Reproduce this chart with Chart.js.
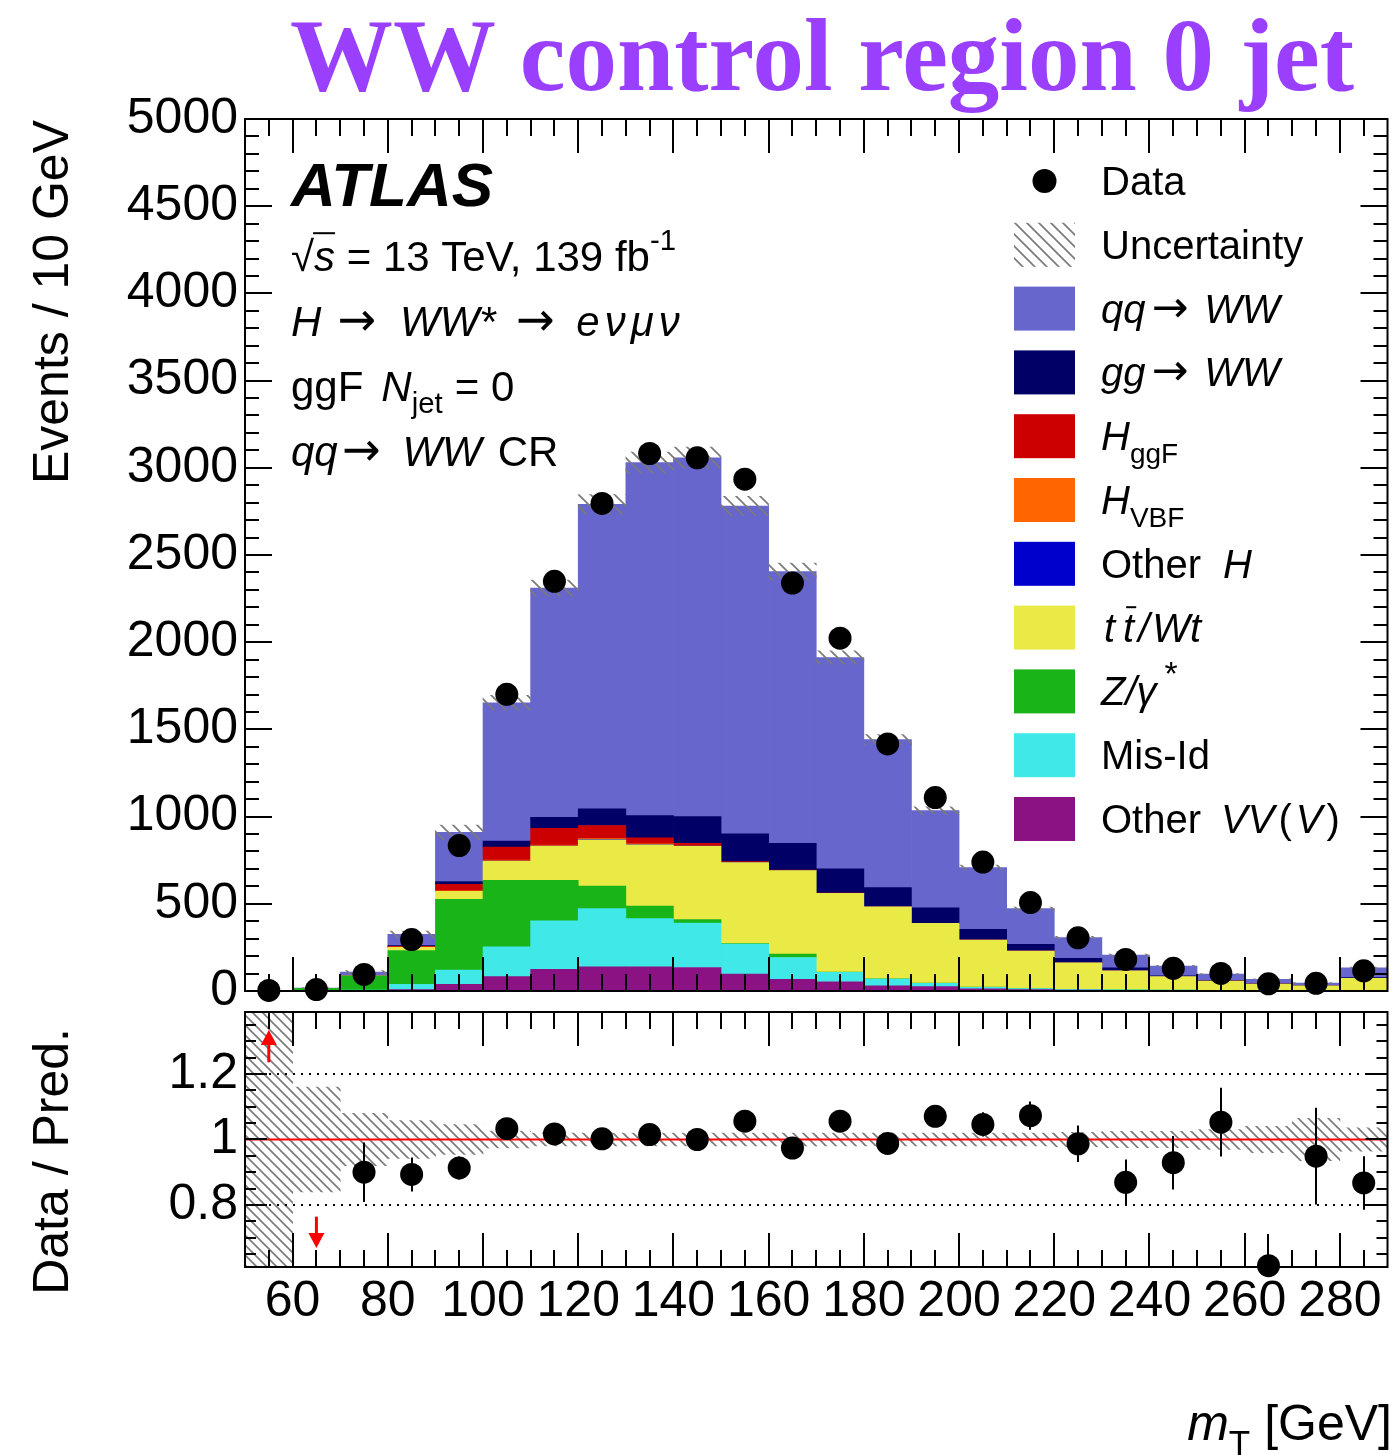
<!DOCTYPE html>
<html><head><meta charset="utf-8">
<script src="https://cdn.jsdelivr.net/npm/chart.js@4.4.1/dist/chart.umd.min.js"></script>
<style>
html,body{margin:0;padding:0;background:#fff;width:1399px;height:1455px;overflow:hidden;}
#c1{position:absolute;left:0;top:0;}
#c2{position:absolute;left:0;top:1000px;}
#title{position:absolute;left:245px;top:5px;width:1154px;text-align:center;font-family:"Liberation Serif","Times New Roman",serif;font-weight:bold;font-size:103px;line-height:100px;color:#9b3fff;white-space:nowrap;}
</style></head><body>
<canvas id="c1" width="1399" height="1040"></canvas>
<canvas id="c2" width="1399" height="455"></canvas>
<div id="title">WW control region 0 jet</div>
<script>
// ================= DATA =================
const BIN_LABELS = ['50-60','60-70','70-80','80-90','90-100','100-110','110-120','120-130','130-140','140-150','150-160','160-170','170-180','180-190','190-200','200-210','210-220','220-230','230-240','240-250','250-260','260-270','270-280','280-290'];
const BIN_CENTERS = [55,65,75,85,95,105,115,125,135,145,155,165,175,185,195,205,215,225,235,245,255,265,275,285];
const X_RANGE = [50, 290];
const X_TICKS = [60,80,100,120,140,160,180,200,220,240,260,280];
const Y_RANGE = [0, 5000];
const Y_TICKS = [0,500,1000,1500,2000,2500,3000,3500,4000,4500,5000];
const RATIO_RANGE = [0.61, 1.39];
const RATIO_TICKS = [0.8, 1, 1.2];
const RATIO_REFS = [0.8, 1.2];
const RATIO_UNITY = [1];

// Events / 10 GeV (stack from bottom to top)
const OTHER_VV = [0,1,2,8,38,82,124,139,139,135,97,67,53,30,25,12,8,5,4,3,2,2,1,2];
const MIS_ID   = [0,1,3,30,82,171,278,333,276,255,172,125,54,39,19,9,6,4,3,2,2,1,1,2];
const Z_GAMMA  = [0,14,80,194,406,381,232,130,72,20,3,19,2,1,1,1,0,0,0,0,0,0,0,0];
const TT_WT    = [0,0,2,19,45,109,195,265,351,420,464,480,451,413,343,270,215,153,109,77,53,37,27,68];
const OTHER_H  = [0,0,0,0,1,2,2,2,2,1,1,0,0,0,0,0,0,0,0,0,0,0,0,0];
const H_VBF    = [0,0,0,1,3,5,6,5,4,2,1,1,0,0,0,0,0,0,0,0,0,0,0,0];
const H_GGF    = [0,0,0,4,36,75,96,75,34,14,4,2,1,0,0,0,0,0,0,0,0,0,0,0];
const GG_WW    = [0,0,1,4,17,34,63,95,128,153,159,153,139,110,89,61,38,25,17,5,4,3,2,5];
const QQ_WW    = [1,1,20,65,282,794,1314,1746,2024,2057,1880,1558,1212,848,558,355,205,120,73,56,36,24,15,56];
const DATA     = [3,8,95,295,834,1701,2349,2796,3082,3057,2935,2339,2023,1417,1109,739,507,305,181,130,101,41,44,116];
// relative uncertainty of prediction (half width)
const UNC_REL  = [0.5,0.16,0.08,0.058,0.046,0.026,0.02,0.02,0.02,0.02,0.02,0.02,0.02,0.02,0.02,0.02,0.02,0.022,0.025,0.025,0.03,0.04,0.065,0.036];
// Data / Pred. and its error
const RATIO     = [2.0,0.55,0.900,0.893,0.913,1.033,1.017,1.002,1.015,1.000,1.056,0.974,1.056,0.988,1.071,1.046,1.073,0.987,0.869,0.929,1.053,0.614,0.949,0.867];
const RATIO_ERR = [0,0,0.091,0.052,0.035,0.025,0.02,0.02,0.018,0.018,0.018,0.02,0.023,0.026,0.03,0.037,0.043,0.056,0.07,0.082,0.105,0.097,0.148,0.082];

// ================= STYLE =================
const SANS = '"Liberation Sans", Arial, Helvetica, sans-serif';
const ARROWF = '"DejaVu Sans", sans-serif';
const COLORS = {
  qqww:'#6666cc', ggww:'#000066', hggf:'#cc0000', hvbf:'#ff6600', otherh:'#0000cc',
  tt:'#eaea46', z:'#18b418', misid:'#41e8e8', vv:'#8b1283'
};
const STACK = [
  {key:'vv',     data:OTHER_VV, label:'Other VV(V)'},
  {key:'misid',  data:MIS_ID,   label:'Mis-Id'},
  {key:'z',      data:Z_GAMMA,  label:'Z/γ*'},
  {key:'tt',     data:TT_WT,    label:'tt/Wt'},
  {key:'otherh', data:OTHER_H,  label:'Other H'},
  {key:'hvbf',   data:H_VBF,    label:'H VBF'},
  {key:'hggf',   data:H_GGF,    label:'H ggF'},
  {key:'ggww',   data:GG_WW,    label:'gg→WW'},
  {key:'qqww',   data:QQ_WW,    label:'qq→WW'}
];

function makeHatch(size, color, lw){
  const c = document.createElement('canvas'); c.width = size; c.height = size;
  const g = c.getContext('2d');
  g.strokeStyle = color; g.lineWidth = lw;
  g.beginPath();
  g.moveTo(-1,-1); g.lineTo(size+1,size+1);
  g.moveTo(size-3,-3); g.lineTo(size+3,3);
  g.moveTo(-3,size-3); g.lineTo(3,size+3);
  g.stroke();
  return g.createPattern(c,'repeat');
}
const HATCH_MAIN = makeHatch(12,'#7a7a7a',1.7);
const HATCH_RATIO = makeHatch(10,'#7a7a7a',1.6);

function fnt(size,it,b,fam){ return (it?'italic ':'')+(b?'bold ':'')+size+'px '+(fam||SANS); }
function runSize(r, size){
  let s = size*(r.sc||1);
  if (r.sub||r.sup) s = size*(r.sc||0.7);
  return s;
}
function measureRuns(ctx, list, size){
  let w = 0;
  for (const r of list){
    ctx.font = fnt(runSize(r,size), r.it, r.b, r.fam);
    w += (r.pre||0) + ctx.measureText(r.t).width + (r.dx||0);
  }
  return w;
}
function drawRuns(ctx, x, y, list, size){
  ctx.save(); ctx.fillStyle='#000'; ctx.strokeStyle='#000';
  ctx.textAlign='left'; ctx.textBaseline='alphabetic';
  for (const r of list){
    const s = runSize(r, size);
    let yy = y + (r.dy||0);
    if (r.sub) yy = y + size*(r.subY||0.3);
    if (r.sup) yy = y - size*(r.supY||0.45);
    x += (r.pre||0);
    ctx.font = fnt(s, r.it, r.b, r.fam);
    ctx.fillText(r.t, x, yy);
    const w = ctx.measureText(r.t).width;
    if (r.over){
      ctx.lineWidth = 2; ctx.beginPath();
      const oy = yy - s*(r.oh||0.86);
      ctx.moveTo(x+(r.ox||0), oy); ctx.lineTo(x+w+(r.ox2||0), oy); ctx.stroke();
    }
    x += w + (r.dx||0);
  }
  ctx.restore();
  return x;
}

// frame + inside ticks on all four sides
function drawFrame(chart, cfg){
  const {ctx, chartArea:a} = chart;
  const xs = chart.scales.x, ys = chart.scales.y;
  ctx.save();
  ctx.strokeStyle = '#000'; ctx.lineWidth = 2;
  ctx.beginPath();
  for (let k = Math.round(X_RANGE[0]/cfg.xMinorStep)+1; k*cfg.xMinorStep < X_RANGE[1]; k++){
    const v = k*cfg.xMinorStep;
    const px = Math.round(xs.getPixelForValue(v));
    const L = (v % cfg.xMajorStep === 0) ? cfg.xMaj : cfg.xMin;
    ctx.moveTo(px, a.bottom); ctx.lineTo(px, a.bottom - L);
    ctx.moveTo(px, a.top); ctx.lineTo(px, a.top + L);
  }
  const lo = cfg.yRange[0], hi = cfg.yRange[1];
  for (let k = Math.ceil(lo/cfg.yMinorStep - 1e-6); k*cfg.yMinorStep <= hi + 1e-9; k++){
    const v = k*cfg.yMinorStep;
    if (v <= lo + 1e-9 || v >= hi - 1e-9) continue;
    const py = Math.round(ys.getPixelForValue(v));
    const isMaj = Math.abs(k % cfg.yMajorEvery) < 1e-9;
    const L = isMaj ? cfg.yMaj : cfg.yMin;
    ctx.moveTo(a.left, py); ctx.lineTo(a.left + L, py);
    ctx.moveTo(a.right, py); ctx.lineTo(a.right - L, py);
  }
  ctx.stroke();
  ctx.strokeRect(a.left, a.top, a.right - a.left, a.bottom - a.top);
  ctx.restore();
}

// ================= MAIN PANEL =================
const TOTAL = BIN_CENTERS.map((_, i) => STACK.reduce((s, d) => s + d.data[i], 0));

const ARR = {t:'→', fam:ARROWF, sc:1.1, dy:-1};
const LEGEND = [
  {kind:'marker', list:[{t:'Data'}]},
  {kind:'hatch',  list:[{t:'Uncertainty'}]},
  {kind:'box', key:'qqww',   list:[{t:'qq',it:1},{...ARR,pre:6},{t:'WW',it:1,pre:16}]},
  {kind:'box', key:'ggww',   list:[{t:'gg',it:1},{...ARR,pre:6},{t:'WW',it:1,pre:16}]},
  {kind:'box', key:'hggf',   list:[{t:'H',it:1},{t:'ggF',sub:1,subY:0.32}]},
  {kind:'box', key:'hvbf',   list:[{t:'H',it:1},{t:'VBF',sub:1,subY:0.32}]},
  {kind:'box', key:'otherh', list:[{t:'Other'},{t:'H',it:1,pre:22}]},
  {kind:'box', key:'tt',     list:[{t:'t',it:1,pre:3},{t:'t',it:1,pre:8,over:1,oh:0.86,ox:3,ox2:2},{t:'/',it:1,pre:4},{t:'Wt',it:1,pre:3}]},
  {kind:'box', key:'z',      list:[{t:'Z/γ',it:1},{t:'*',sup:1,sc:0.85,supY:0.5,pre:8}]},
  {kind:'box', key:'misid',  list:[{t:'Mis-Id'}]},
  {kind:'box', key:'vv',     list:[{t:'Other'},{t:'VV',it:1,pre:20},{t:'(',pre:4},{t:'V',it:1,pre:4},{t:')',pre:4}]}
];
const LEG = {x0:1014, w:61, h:44, y0:181, dy:63.8, tx:1101, size:40};

const ANNOT = [
  {y:206, size:62, list:[{t:'ATLAS',it:1,b:1}]},
  {y:271, size:42, list:[{t:'√'},{t:'s',it:1,over:1,oh:0.9,ox:-1},{t:' = 13 TeV, 139 fb'},{t:'-1',sup:1,supY:0.5}]},
  {y:336, size:42, list:[{t:'H',it:1},{...ARR,pre:16},{t:'WW*',it:1,pre:24},{...ARR,pre:20},{t:'e',it:1,pre:22},{t:'ν',it:1,pre:5},{t:'μ',it:1,pre:5},{t:'ν',it:1,pre:5}]},
  {y:401, size:42, list:[{t:'ggF'},{t:'N',it:1,pre:18},{t:'jet',sub:1,subY:0.28},{t:'= 0',pre:12}]},
  {y:466, size:42, list:[{t:'qq',it:1},{...ARR,pre:4},{t:'WW',it:1,pre:22},{t:'CR',pre:16}]}
];

const mainPlugin = {
  id:'mainDecor',
  afterDatasetsDraw(chart){
    drawFrame(chart, {xMinorStep:5, xMajorStep:20, xMaj:34, xMin:17, yRange:Y_RANGE, yMinorStep:100, yMajorEvery:5, yMaj:27, yMin:14});
  },
  afterDraw(chart){
    const ctx = chart.ctx;
    for (const a of ANNOT) drawRuns(ctx, 291, a.y, a.list, a.size);
    LEGEND.forEach((e, i) => {
      const cy = LEG.y0 + i*LEG.dy;
      ctx.save();
      if (e.kind === 'marker'){
        ctx.fillStyle = '#000'; ctx.beginPath(); ctx.arc(LEG.x0 + LEG.w/2, cy, 12, 0, Math.PI*2); ctx.fill();
      } else if (e.kind === 'hatch'){
        ctx.fillStyle = HATCH_MAIN; ctx.fillRect(LEG.x0, cy - LEG.h/2, LEG.w, LEG.h);
      } else {
        ctx.fillStyle = COLORS[e.key]; ctx.fillRect(LEG.x0, cy - LEG.h/2, LEG.w, LEG.h);
      }
      ctx.restore();
      drawRuns(ctx, LEG.tx, cy + 14, e.list, LEG.size);
    });
    ctx.save();
    ctx.translate(68, 120); ctx.rotate(-Math.PI/2);
    ctx.font = fnt(50); ctx.fillStyle = '#000'; ctx.textAlign = 'right'; ctx.textBaseline = 'alphabetic';
    ctx.fillText('Events / 10 GeV', 0, 0);
    ctx.restore();
  }
};

const mainDatasets = STACK.map(s => ({
  type:'bar', label:s.label, data:s.data, backgroundColor:COLORS[s.key], borderWidth:0,
  xAxisID:'xc', yAxisID:'y', stack:'mc', grouped:false, barPercentage:1, categoryPercentage:1, order:3
}));
mainDatasets.push({
  type:'bar', label:'Uncertainty', data: TOTAL.map((t, i) => [t*(1-UNC_REL[i]), t*(1+UNC_REL[i])]),
  backgroundColor:HATCH_MAIN, borderWidth:0, xAxisID:'xc', yAxisID:'yb', grouped:false,
  barPercentage:1, categoryPercentage:1, order:2
});
mainDatasets.push({
  type:'scatter', label:'Data', data: BIN_CENTERS.map((x, i) => ({x, y:DATA[i]})),
  xAxisID:'x', yAxisID:'yb', pointRadius:11.5, pointBackgroundColor:'#000', pointBorderWidth:0,
  showLine:false, clip:false, order:0
});

new Chart(document.getElementById('c1'), {
  type:'bar',
  data:{labels:BIN_LABELS, datasets:mainDatasets},
  options:{
    responsive:false, animation:false, events:[],
    layout:{padding:{left:0, right:7, top:119, bottom:49}},
    plugins:{legend:{display:false}, tooltip:{enabled:false}},
    scales:{
      x:{type:'linear', axis:'x', position:'bottom', min:X_RANGE[0], max:X_RANGE[1], display:false, offset:false},
      xc:{type:'category', axis:'x', position:'bottom', display:false, offset:true},
      y:{type:'linear', axis:'y', position:'left', min:Y_RANGE[0], max:Y_RANGE[1], stacked:true,
         grid:{display:false, drawTicks:false}, border:{display:false},
         ticks:{color:'#000', font:{family:SANS, size:50}, padding:7, callback:v => String(v)},
         afterBuildTicks:s => { s.ticks = Y_TICKS.map(v => ({value:v})); },
         afterFit:s => { s.width = 245; s.paddingTop = 0; s.paddingBottom = 0; }},
      yb:{type:'linear', axis:'y', position:'left', min:Y_RANGE[0], max:Y_RANGE[1], display:false}
    }
  },
  plugins:[mainPlugin]
});

// ================= RATIO PANEL =================
const inRange = v => v >= RATIO_RANGE[0] && v <= RATIO_RANGE[1];
const ARROW_UP = [1.236, 1.335];
const ARROW_DOWN = [0.764, 0.668];

const ratioPlugin = {
  id:'ratioDecor',
  afterDatasetsDraw(chart){
    const {ctx, chartArea:a} = chart;
    const xs = chart.scales.x, ys = chart.scales.y;
    ctx.save();
    ctx.beginPath(); ctx.rect(a.left, a.top, a.right-a.left, a.bottom-a.top); ctx.clip();
    ctx.strokeStyle = '#000'; ctx.lineWidth = 2; ctx.beginPath();
    RATIO.forEach((r, i) => {
      if (!inRange(r) || !RATIO_ERR[i]) return;
      const px = Math.round(xs.getPixelForValue(BIN_CENTERS[i]));
      ctx.moveTo(px, ys.getPixelForValue(r - RATIO_ERR[i]));
      ctx.lineTo(px, ys.getPixelForValue(r + RATIO_ERR[i]));
    });
    ctx.stroke();
    ctx.restore();
    ctx.save();
    ctx.strokeStyle = '#ff0000'; ctx.fillStyle = '#ff0000'; ctx.lineWidth = 3;
    RATIO.forEach((r, i) => {
      if (inRange(r)) return;
      const seg = r > RATIO_RANGE[1] ? ARROW_UP : ARROW_DOWN;
      const px = xs.getPixelForValue(BIN_CENTERS[i]);
      const y0 = ys.getPixelForValue(seg[0]), y1 = ys.getPixelForValue(seg[1]);
      const dir = Math.sign(y1 - y0), hl = 15, hw = 8;
      ctx.beginPath(); ctx.moveTo(px, y0); ctx.lineTo(px, y1 - dir*hl); ctx.stroke();
      ctx.beginPath(); ctx.moveTo(px, y1); ctx.lineTo(px - hw, y1 - dir*hl); ctx.lineTo(px + hw, y1 - dir*hl); ctx.closePath(); ctx.fill();
    });
    ctx.restore();
    drawFrame(chart, {xMinorStep:5, xMajorStep:20, xMaj:34, xMin:17, yRange:RATIO_RANGE, yMinorStep:0.05, yMajorEvery:4, yMaj:22, yMin:11});
  },
  afterDraw(chart){
    const ctx = chart.ctx;
    ctx.save();
    ctx.translate(68, 28); ctx.rotate(-Math.PI/2);
    ctx.font = fnt(50); ctx.fillStyle = '#000'; ctx.textAlign = 'right'; ctx.textBaseline = 'alphabetic';
    ctx.fillText('Data / Pred.', 0, 0);
    ctx.restore();
    const xt = [{t:'m',it:1},{t:'T',sub:1,subY:0.3},{t:'[GeV]',pre:14}];
    const w = measureRuns(ctx, xt, 50);
    drawRuns(ctx, 1392 - w, 440, xt, 50);
  }
};

const ratioDatasets = [
  {type:'bar', label:'Uncertainty', data: UNC_REL.map(u => [1-u, 1+u]), backgroundColor:HATCH_RATIO, borderWidth:0,
   xAxisID:'xc', yAxisID:'y', grouped:false, barPercentage:1, categoryPercentage:1, order:3},
  {type:'line', label:'unity', data: RATIO_UNITY.flatMap(v => [{x:X_RANGE[0], y:v},{x:X_RANGE[1], y:v}]),
   xAxisID:'x', yAxisID:'y', borderColor:'#ff0000', borderWidth:2, pointRadius:0, order:2}
];
RATIO_REFS.forEach(v => ratioDatasets.push({
  type:'line', label:'ref '+v, data:[{x:X_RANGE[0], y:v},{x:X_RANGE[1], y:v}],
  xAxisID:'x', yAxisID:'y', borderColor:'#000', borderWidth:2, borderDash:[2,6], pointRadius:0, order:2
}));
ratioDatasets.push({
  type:'scatter', label:'Data / Pred.', data: BIN_CENTERS.map((x, i) => ({x, y:RATIO[i]})).filter(p => inRange(p.y)),
  xAxisID:'x', yAxisID:'y', pointRadius:11.5, pointBackgroundColor:'#000', pointBorderWidth:0, showLine:false, clip:false, order:0
});

new Chart(document.getElementById('c2'), {
  type:'bar',
  data:{labels:BIN_LABELS, datasets:ratioDatasets},
  options:{
    responsive:false, animation:false, events:[],
    layout:{padding:{left:0, right:7, top:12, bottom:0}},
    plugins:{legend:{display:false}, tooltip:{enabled:false}},
    scales:{
      x:{type:'linear', axis:'x', position:'bottom', min:X_RANGE[0], max:X_RANGE[1], offset:false,
         grid:{display:false, drawTicks:false}, border:{display:false},
         ticks:{color:'#000', font:{family:SANS, size:50}, padding:5, autoSkip:false, maxRotation:0, minRotation:0},
         afterBuildTicks:s => { s.ticks = X_TICKS.map(v => ({value:v})); },
         afterFit:s => { s.height = 188; s.paddingLeft = 0; s.paddingRight = 0; }},
      xc:{type:'category', axis:'x', position:'bottom', display:false, offset:true},
      y:{type:'linear', axis:'y', position:'left', min:RATIO_RANGE[0], max:RATIO_RANGE[1],
         grid:{display:false, drawTicks:false}, border:{display:false},
         ticks:{color:'#000', font:{family:SANS, size:50}, padding:7, callback:v => String(v)},
         afterBuildTicks:s => { s.ticks = RATIO_TICKS.map(v => ({value:v})); },
         afterFit:s => { s.width = 245; s.paddingTop = 0; s.paddingBottom = 0; }}
    }
  },
  plugins:[ratioPlugin]
});
</script>
</body></html>
